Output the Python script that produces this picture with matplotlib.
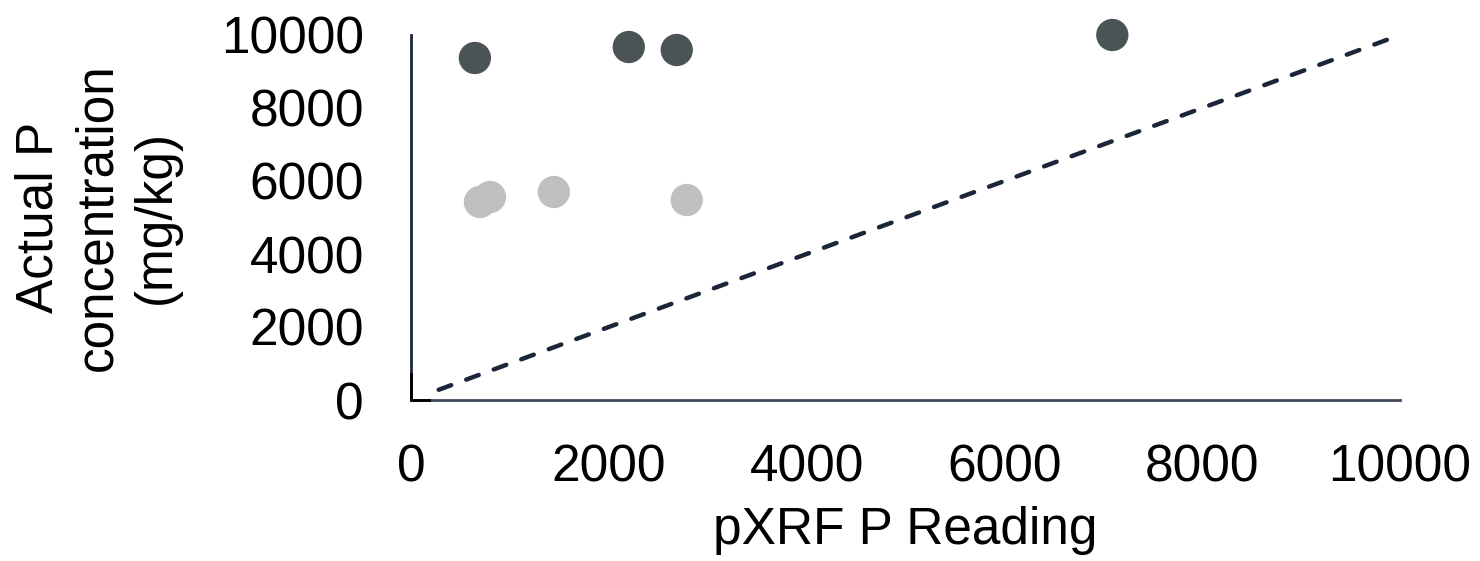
import matplotlib
matplotlib.use("Agg")
import matplotlib.pyplot as plt

# Data
dark_x = [646, 2202, 2687, 7091]
dark_y = [9370, 9671, 9589, 10000]
light_x = [697, 798, 1444, 2788]
light_y = [5425, 5562, 5699, 5479]
line_x = [280, 9880]
line_y = [280, 9880]
xticks = [0, 2000, 4000, 6000, 8000, 10000]
yticks = [0, 2000, 4000, 6000, 8000, 10000]

plt.rcParams['font.family'] = ['Liberation Sans', 'DejaVu Sans']

W, H = 1480, 561
fig = plt.figure(figsize=(W / 100, H / 100), dpi=100)
ax = fig.add_axes([411 / W, 1 - 400 / H, (1400 - 411) / W, (400 - 35) / H])

ax.plot(line_x, line_y, color='#1c2639', lw=3.2, linestyle=(0, (3.0, 3.6)),
        dash_capstyle='round', zorder=2)
ax.scatter(light_x, light_y, s=540, color='#bfbfbf', edgecolors='none', zorder=3, clip_on=False)
ax.scatter(dark_x, dark_y, s=540, color='#4a5356', edgecolors='none', zorder=3, clip_on=False)

ax.set_xlim(0, 10000)
ax.set_ylim(0, 10000)
ax.set_xticks(xticks)
ax.set_yticks(yticks)
ax.set_xticklabels([str(v) for v in xticks])
ax.set_yticklabels([str(v) for v in yticks])
ax.tick_params(axis='both', length=0, labelsize=37, colors='black')
ax.tick_params(axis='x', pad=31)
ax.tick_params(axis='y', pad=34)

for s in ['top', 'right']:
    ax.spines[s].set_visible(False)
ax.spines['left'].set_color('#1c2639')
ax.spines['left'].set_linewidth(2)
ax.spines['bottom'].set_color('#3e4a5c')
ax.spines['bottom'].set_linewidth(2)

# small black corner mark
ax.plot([0, 0, 0.018], [0.07, 0, 0], transform=ax.transAxes, color='black', lw=2,
        clip_on=False, zorder=4)

ax.set_xlabel('pXRF P Reading', fontsize=37, labelpad=10)
fig.text(98 / W, 1 - 217 / H, 'Actual P\nconcentration\n(mg/kg)', rotation=90,
         ha='center', va='center', multialignment='center', fontsize=37, linespacing=1.25)

fig.savefig('out.png', dpi=100)
